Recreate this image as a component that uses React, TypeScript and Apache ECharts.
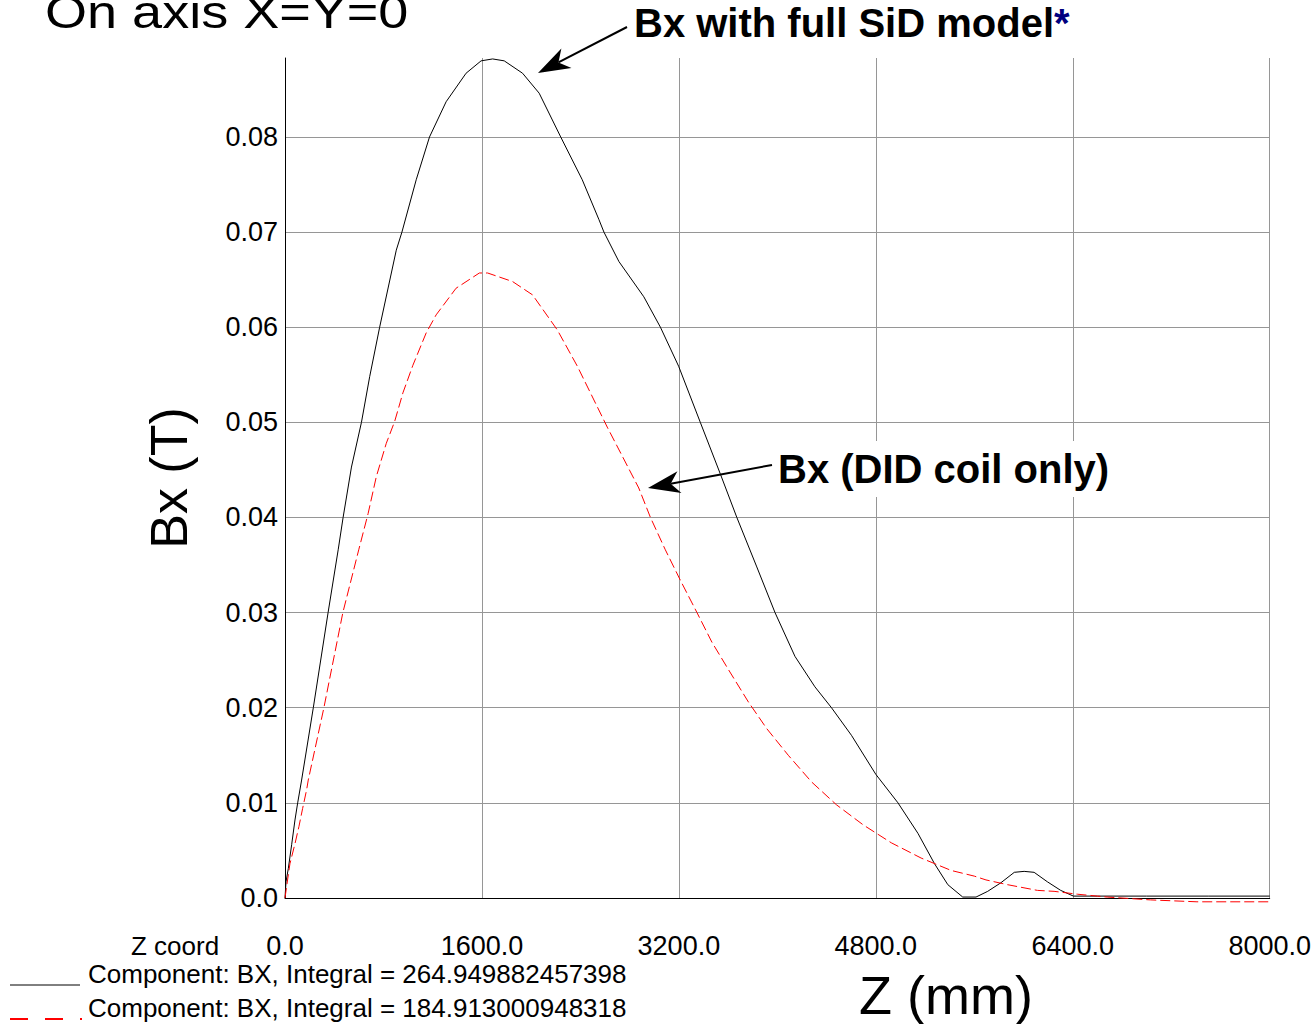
import React, { useEffect, useRef } from 'react';
import * as echarts from 'echarts';

// Bx with full SiD model (black, solid)
const zFull = [0, 8, 27, 54, 81, 103, 135, 230, 350, 432, 472, 540, 621, 688, 769, 904, 950, 1066, 1174, 1309, 1471, 1593, 1687, 1781, 1930, 2065, 2240, 2415, 2551, 2591, 2713, 2915, 3050, 3198, 3374, 3536, 3671, 3833, 3981, 4143, 4305, 4440, 4602, 4800, 4980, 5142, 5277, 5385, 5506, 5614, 5709, 5816, 5925, 6005, 6086, 6194, 6302, 6405, 6600, 7000, 7500, 8000];
const bxFull = [0, 0.0017, 0.0031, 0.0056, 0.0082, 0.0100, 0.0124, 0.0200, 0.0300, 0.0366, 0.0400, 0.0453, 0.0500, 0.0548, 0.0600, 0.0681, 0.0700, 0.0755, 0.0800, 0.0837, 0.0867, 0.0880, 0.0882, 0.0880, 0.0867, 0.0846, 0.0800, 0.0755, 0.0713, 0.0700, 0.0669, 0.0632, 0.0600, 0.0559, 0.0500, 0.0446, 0.0400, 0.0348, 0.0300, 0.0254, 0.0222, 0.0200, 0.0171, 0.0130, 0.0100, 0.0068, 0.0036, 0.0014, 0.0001, 0.0001, 0.0007, 0.0016, 0.0027, 0.0028, 0.0027, 0.0017, 0.0008, 0.0002, 0.0002, 0.0002, 0.0002, 0.0002];

// Bx (DID coil only) (red, dashed)
const zDid = [0, 13, 40, 81, 113, 143, 176, 189, 316, 470, 599, 675, 742, 823, 891, 958, 1039, 1147, 1228, 1390, 1579, 1646, 1849, 2011, 2213, 2375, 2618, 2874, 2969, 3090, 3212, 3347, 3468, 3603, 3765, 3914, 4089, 4278, 4480, 4696, 4926, 5168, 5411, 5600, 5695, 5870, 6113, 6248, 6437, 6680, 7031, 7409, 7895, 8000];
const bxDid = [0, 0.0012, 0.0036, 0.0057, 0.0075, 0.0094, 0.0114, 0.0124, 0.0200, 0.0300, 0.0366, 0.0404, 0.0443, 0.0478, 0.0501, 0.0531, 0.0560, 0.0594, 0.0613, 0.0641, 0.0657, 0.0657, 0.0648, 0.0634, 0.0597, 0.0559, 0.0495, 0.0431, 0.0400, 0.0366, 0.0334, 0.0300, 0.0269, 0.0240, 0.0206, 0.0178, 0.0150, 0.0122, 0.0098, 0.0077, 0.0058, 0.0042, 0.0029, 0.0023, 0.0019, 0.0014, 0.0008, 0.0007, 0.0004, 0.0001, -0.0002, -0.0004, -0.0004, -0.0004];

const seriesNames = [
  'Component: BX, Integral = 264.949882457398',
  'Component: BX, Integral = 184.913000948318',
];
const xMin = 0;
const xMax = 8000;
const xStep = 1600;
const yMin = 0;
const yMax = 0.0883;
const yStep = 0.01;

const FONT = '"Liberation Sans", Arial, Helvetica, sans-serif';

function arrow(tail: number[], tip: number[], L = 32, w = 11, notch = 9) {
  const dx = tip[0] - tail[0];
  const dy = tip[1] - tail[1];
  const len = Math.hypot(dx, dy);
  const ux = dx / len, uy = dy / len;
  const nx = -uy, ny = ux;
  const bx = tip[0] - ux * L, by = tip[1] - uy * L;
  const mx = tip[0] - ux * (L - notch), my = tip[1] - uy * (L - notch);
  return [
    {
      type: 'line',
      shape: { x1: tail[0], y1: tail[1], x2: mx, y2: my },
      style: { stroke: '#000', lineWidth: 2 },
      z: 100,
    },
    {
      type: 'polygon',
      shape: {
        points: [
          [tip[0], tip[1]],
          [bx + nx * w, by + ny * w],
          [mx, my],
          [bx - nx * w, by - ny * w],
        ],
      },
      style: { fill: '#000' },
      z: 100,
    },
  ];
}

export default function App() {
  const ref = useRef<HTMLDivElement>(null);
  useEffect(() => {
    const chart = echarts.init(ref.current!, null, { renderer: 'svg' });
    const option: any = {
      animation: false,
      backgroundColor: '#fff',
      grid: { left: 285, right: 41, top: 58, bottom: 126, containLabel: false },
      xAxis: {
        type: 'value',
        min: xMin,
        max: xMax,
        interval: xStep,
        axisLine: { show: true, onZero: false, lineStyle: { color: '#000', width: 1 } },
        axisTick: { show: false },
        axisLabel: {
          margin: 34,
          fontFamily: FONT,
          fontSize: 27,
          color: '#000',
          formatter: (v: number) => v.toFixed(1),
        },
        splitLine: { show: true, showMinLine: false, lineStyle: { color: '#969696', width: 1 } },
      },
      yAxis: {
        type: 'value',
        min: yMin,
        max: yMax,
        interval: yStep,
        name: 'Bx (T)',
        nameLocation: 'middle',
        nameGap: 90,
        nameRotate: 90,
        nameTextStyle: { fontFamily: FONT, fontSize: 52, color: '#000' },
        axisLine: { show: true, lineStyle: { color: '#000', width: 1 } },
        axisTick: { show: false },
        axisLabel: {
          margin: 7,
          fontFamily: FONT,
          fontSize: 27,
          color: '#000',
          showMaxLabel: false,
          formatter: (v: number) => {
            if (Math.abs(v) < 1e-9) return '0.0';
            const r = Math.round(v * 100) / 100;
            if (Math.abs(r - v) > 1e-6) return '';
            return r.toFixed(2);
          },
        },
        splitLine: { show: true, showMinLine: false, showMaxLine: false, lineStyle: { color: '#969696', width: 1 } },
      },
      series: [
        {
          name: seriesNames[0],
          type: 'line',
          data: zFull.map((z, i) => [z, bxFull[i]]),
          symbol: 'none',
          showSymbol: false,
          clip: false,
          lineStyle: { color: '#000', width: 1 },
          itemStyle: { color: '#000' },
          z: 3,
        },
        {
          name: seriesNames[1],
          type: 'line',
          data: zDid.map((z, i) => [z, bxDid[i]]),
          symbol: 'none',
          showSymbol: false,
          clip: false,
          lineStyle: { color: '#ff0000', width: 1, type: [10, 4] },
          itemStyle: { color: '#ff0000' },
          z: 4,
        },
      ],
      graphic: [
        {
          type: 'text',
          x: 45,
          y: 35,
          scaleX: 1.15,
          style: { text: 'On axis X=Y=0', font: `47px ${FONT}`, fill: '#000', align: 'left', verticalAlign: 'bottom' },
        },
        {
          type: 'text',
          x: 131,
          y: 946,
          style: { text: 'Z coord', font: `26px ${FONT}`, fill: '#000', align: 'left', verticalAlign: 'middle' },
        },
        {
          type: 'text',
          x: 946,
          y: 995,
          style: { text: 'Z (mm)', font: `54px ${FONT}`, fill: '#000', align: 'center', verticalAlign: 'middle' },
        },
        // legend
        {
          type: 'line',
          shape: { x1: 10, y1: 985, x2: 80, y2: 985 },
          style: { stroke: '#000', lineWidth: 1 },
        },
        {
          type: 'text',
          x: 88,
          y: 974,
          style: { text: seriesNames[0], font: `26px ${FONT}`, fill: '#000', align: 'left', verticalAlign: 'middle' },
        },
        {
          type: 'line',
          shape: { x1: 10, y1: 1019, x2: 82, y2: 1019 },
          style: { stroke: '#ff0000', lineWidth: 2, lineDash: [18, 17] },
        },
        {
          type: 'text',
          x: 88,
          y: 1008,
          style: { text: seriesNames[1], font: `26px ${FONT}`, fill: '#000', align: 'left', verticalAlign: 'middle' },
        },
        {
          type: 'text',
          x: 634,
          y: 23,
          z: 100,
          style: {
            text: '{a|Bx with full SiD model}{b|*}',
            font: `bold 40px ${FONT}`,
            fill: '#000',
            align: 'left',
            verticalAlign: 'middle',
            rich: {
              a: { font: `bold 40px ${FONT}`, fill: '#000' },
              b: { font: `bold 40px ${FONT}`, fill: '#000080' },
            },
          },
        },
        {
          type: 'text',
          x: 776,
          y: 469,
          z: 100,
          style: {
            text: 'Bx (DID coil only)',
            font: `bold 40px ${FONT}`,
            fill: '#000',
            align: 'left',
            verticalAlign: 'middle',
            backgroundColor: '#fff',
            padding: [8, 2, 8, 2],
          },
        },
        ...arrow([627, 27], [538, 73]),
        ...arrow([772, 465], [648, 488]),
      ],
    };
    chart.setOption(option);
    return () => chart.dispose();
  }, []);
  return <div ref={ref} style={{ position: 'absolute', left: 0, top: 0, width: 1314, height: 1024 }} />;
}
